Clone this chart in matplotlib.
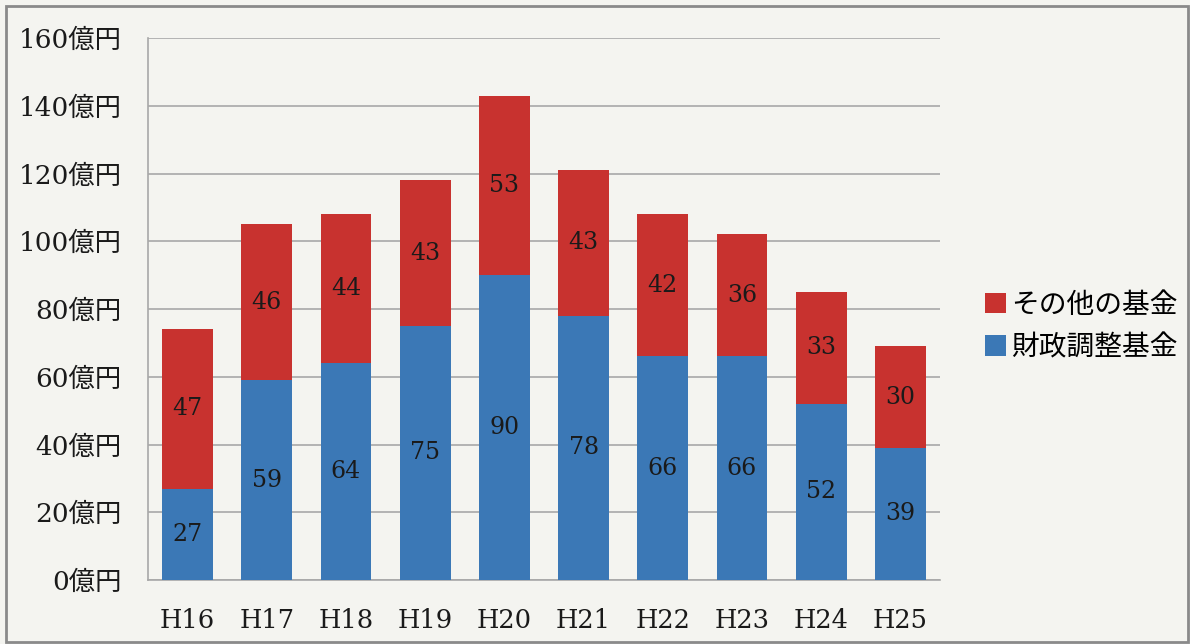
import matplotlib
matplotlib.use("Agg")
import matplotlib.pyplot as plt
from matplotlib.patches import Rectangle

categories = ["H16", "H17", "H18", "H19", "H20", "H21", "H22", "H23", "H24", "H25"]
zaisei = [27, 59, 64, 75, 90, 78, 66, 66, 52, 39]
sonota = [47, 46, 44, 43, 53, 43, 42, 36, 33, 30]
yticks = [0, 20, 40, 60, 80, 100, 120, 140, 160]
ytick_labels = [f"{v}億円" for v in yticks]
series_names = ["その他の基金", "財政調整基金"]

BLUE = "#3b78b6"
RED = "#c8322f"
BG = "#f4f4f0"
SERIF = ["DejaVu Serif", "Noto Sans CJK JP"]
SANS = ["Noto Sans CJK JP", "DejaVu Sans"]

fig = plt.figure(figsize=(11.9, 6.44), dpi=100, facecolor=BG)
ax = fig.add_axes([148/1190, 64/644, 792/1190, 542/644])
ax.set_facecolor(BG)

x = list(range(len(categories)))
w = 0.64
b1 = ax.bar(x, zaisei, width=w, color=BLUE, zorder=3, label=series_names[1])
b2 = ax.bar(x, sonota, width=w, bottom=zaisei, color=RED, zorder=3, label=series_names[0])

for i in x:
    ax.text(i, zaisei[i] / 2, str(zaisei[i]), ha="center", va="center",
            fontsize=17, family=SERIF, color="#1a1a1a", zorder=4)
    ax.text(i, zaisei[i] + sonota[i] / 2, str(sonota[i]), ha="center", va="center",
            fontsize=17, family=SERIF, color="#1a1a1a", zorder=4)

ax.set_xlim(-0.5, len(categories) - 0.5)
ax.set_ylim(0, 160)
ax.set_yticks(yticks)
ax.set_yticklabels(ytick_labels, family=SERIF, fontsize=19, color="#1a1a1a")
ax.set_xticks(x)
ax.set_xticklabels(categories, family=SERIF, fontsize=18.5, color="#1a1a1a")
ax.tick_params(axis="both", length=0)
ax.tick_params(axis="y", pad=19)
ax.tick_params(axis="x", pad=20)
ax.yaxis.grid(True, color="#a8a8a8", linewidth=1.2, zorder=0)
for s in ["top", "right"]:
    ax.spines[s].set_visible(False)
for s in ["left", "bottom"]:
    ax.spines[s].set_color("#a8a8a8")
    ax.spines[s].set_linewidth(1.2)

leg = fig.legend([b2, b1], series_names, loc="center left",
                 bbox_to_anchor=(960/1190, 1 - 326/644), frameon=False,
                 prop={"family": SANS, "size": 20}, handlelength=0.75,
                 handleheight=0.75, handletextpad=0.2, labelspacing=0.45)

fig.patches.append(Rectangle((6/1190, 2/644), 1 - 8/1190, 1 - 8/644, transform=fig.transFigure,
                             fill=False, edgecolor="#8a8a8a", linewidth=2))

fig.savefig("out.png", dpi=100, facecolor=BG)
